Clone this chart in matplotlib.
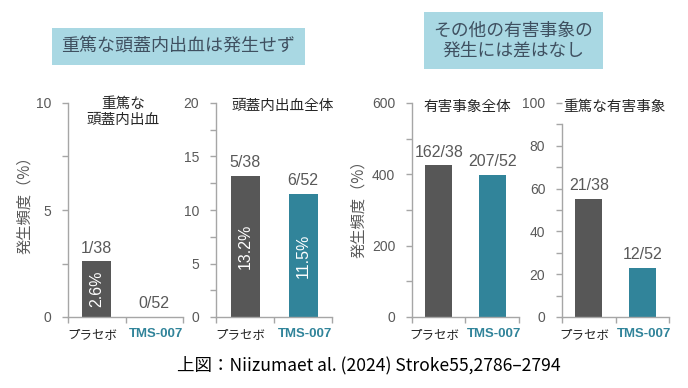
import numpy as np
import matplotlib.pyplot as plt
from matplotlib.ticker import MultipleLocator

plt.rcParams['font.family'] = ['Liberation Sans', 'Noto Sans CJK JP', 'DejaVu Sans']
JP = ['Noto Sans CJK JP', 'DejaVu Sans']

GRAY = '#575757'
TEAL = '#31849A'
SPINE = '#A6A6A6'
TXT = '#595959'

groups = ['プラセボ', 'TMS-007']
panel_titles = ['重篤な\n頭蓋内出血', '頭蓋内出血全体', '有害事象全体', '重篤な有害事象']
values = [[2.6, 0.0], [13.2, 11.5], [426, 398], [55.3, 23.1]]
counts = [['1/38', '0/52'], ['5/38', '6/52'], ['162/38', '207/52'], ['21/38', '12/52']]
inner_labels = [['2.6%', ''], ['13.2%', '11.5%'], ['', ''], ['', '']]
ymax = [10, 20, 600, 100]
major = [5, 5, 200, 20]
minor = [2.5, 2.5, 100, 10]

W, H = 688, 388
boxes = [(68, 183), (216, 332), (412, 519), (562, 669)]
title_pos = [(123.5, 112), (283, 106), (467.5, 107), (614, 107)]

fig = plt.figure(figsize=(6.88, 3.88), dpi=100)

for i, (x0, x1) in enumerate(boxes):
    ax = fig.add_axes([x0 / W, (H - 317) / H, (x1 - x0) / W, 214 / H])
    ax.bar([0, 1], values[i], width=0.5, color=[GRAY, TEAL])
    ax.set_xlim(-0.5, 1.5)
    ax.set_ylim(0, ymax[i])
    for s in ['top', 'right']:
        ax.spines[s].set_visible(False)
    for s in ['left', 'bottom']:
        ax.spines[s].set_color(SPINE)
        ax.spines[s].set_linewidth(1.0)
    ax.yaxis.set_major_locator(MultipleLocator(major[i]))
    ax.yaxis.set_minor_locator(MultipleLocator(minor[i]))
    ax.tick_params(axis='y', which='both', color=SPINE, labelcolor=TXT,
                   labelsize=10, direction='out', length=4, width=1, pad=8)
    ax.set_xticks([-0.5, 0.5, 1.5], minor=True)
    ax.set_xticks([-0.08, 1.03])
    ax.set_xticklabels(groups)
    ax.tick_params(axis='x', which='major', length=0, pad=8)
    ax.tick_params(axis='x', which='minor', length=4, color=SPINE, width=1)
    lbls = ax.get_xticklabels()
    lbls[0].set_fontfamily(JP)
    lbls[0].set_fontsize(9)
    lbls[0].set_color('#262626')
    lbls[1].set_color(TEAL)
    lbls[1].set_fontweight('bold')
    lbls[1].set_fontsize(9.5)
    if i == 3:
        ax.spines['left'].set_bounds(0, 90)
        for t in ax.yaxis.get_major_ticks():
            if abs(t.get_loc() - 100) < 1e-6:
                t.tick1line.set_visible(False)
    for j in range(2):
        ax.annotate(counts[i][j], (j, values[i][j]), xytext=(0, 4),
                    textcoords='offset points', ha='center', va='bottom',
                    fontsize=11.5, color=TXT)
        if inner_labels[i][j]:
            ax.text(j, values[i][j] / 2, inner_labels[i][j], rotation=90,
                    ha='center', va='center', color='white', fontsize=11.5)
    tx, ty = title_pos[i]
    fig.text(tx / W, 1 - ty / H, panel_titles[i], ha='center', va='center',
             fontsize=10.5, family=JP, color='#262626', linespacing=1.15)

fig.text(25 / W, 1 - 201 / H, '発生頻度（%）', rotation=90, ha='center', va='center',
         fontsize=11, family=JP, color=TXT)
fig.text(359 / W, 1 - 205 / H, '発生頻度（%）', rotation=90, ha='center', va='center',
         fontsize=11, family=JP, color=TXT)

BOXC = '#A9D8E3'
TTL = '#3F5060'
box = dict(boxstyle='square,pad=0.55', facecolor=BOXC, edgecolor='none')
fig.text(178.5 / W, 1 - 46.5 / H, '重篤な頭蓋内出血は発生せず', ha='center', va='center',
         fontsize=13, family=JP, color=TTL, bbox=box)
box2 = dict(boxstyle='square,pad=0.55', facecolor=BOXC, edgecolor='none')
fig.text(513.5 / W, 1 - 40.5 / H, 'その他の有害事象の\n発生には差はなし', ha='center',
         va='center', fontsize=12.8, family=JP, color=TTL, bbox=box2,
         linespacing=1.12)

fig.text(368.5 / W, 1 - 365 / H, '上図：Niizumaet al. (2024) Stroke55,2786–2794',
         ha='center', va='center', fontsize=12.6, family=JP, color='black')

fig.savefig('out.png', dpi=100)
